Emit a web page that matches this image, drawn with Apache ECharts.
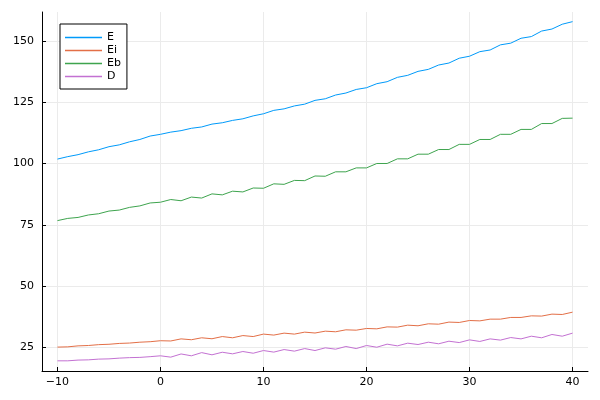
<!DOCTYPE html>
<html>
<head>
<meta charset="utf-8">
<script src="https://cdn.jsdelivr.net/npm/echarts@6/dist/echarts.min.js"></script>
<style>html,body{margin:0;padding:0;background:#fff}#c{width:600px;height:400px}</style>
</head>
<body>
<div id="c"></div>
<script>
var xs = [-10,-9,-8,-7,-6,-5,-4,-3,-2,-1,0,1,2,3,4,5,6,7,8,9,10,11,12,13,14,15,16,17,18,19,20,21,22,23,24,25,26,27,28,29,30,31,32,33,34,35,36,37,38,39,40];
var seriesNames = ['E','Ei','Eb','D'];
var E = [101.8,102.8,103.6,104.75,105.6,106.85,107.6,108.85,109.8,111.2,111.9,112.8,113.4,114.36,114.9,116.07,116.62,117.58,118.23,119.42,120.28,121.67,122.29,123.48,124.2,125.75,126.4,127.93,128.75,130.2,130.9,132.56,133.37,135.14,135.96,137.58,138.4,140.17,140.98,142.94,143.76,145.62,146.3,148.4,149.09,151.09,151.77,154.03,154.85,156.81,157.87];
var Ei = [25.1,25.2,25.6,25.75,26.1,26.25,26.6,26.75,27.1,27.3,27.7,27.6,28.45,28.1,28.9,28.5,29.4,28.9,29.8,29.4,30.4,30.0,30.8,30.4,31.2,30.85,31.6,31.35,32.15,32.0,32.7,32.55,33.35,33.25,34.05,33.8,34.6,34.45,35.3,35.15,35.95,35.8,36.5,36.5,37.2,37.2,37.85,37.75,38.55,38.4,39.35];
var Eb = [76.7,77.6,78.0,79.0,79.5,80.6,81.0,82.1,82.7,83.9,84.2,85.3,84.8,86.3,85.9,87.6,87.2,88.7,88.4,90.0,89.9,91.7,91.5,93.1,93.0,94.9,94.8,96.6,96.6,98.2,98.2,100.0,100.0,101.9,101.9,103.8,103.8,105.7,105.7,107.8,107.8,109.8,109.8,111.9,111.9,113.9,113.9,116.3,116.3,118.4,118.5];
var D = [19.5,19.5,19.8,19.9,20.2,20.3,20.6,20.8,20.9,21.2,21.55,21.0,22.3,21.55,22.85,21.95,23.0,22.35,23.3,22.6,23.7,23.05,24.1,23.45,24.5,23.7,24.8,24.25,25.35,24.5,25.75,25.05,26.3,25.6,26.7,26.15,27.1,26.45,27.5,26.95,28.05,27.4,28.45,27.95,29.0,28.45,29.55,28.9,30.25,29.55,30.8];
var xTicks = [-10,0,10,20,30,40];
var yTicks = [25,50,75,100,125,150];

var colors = ['#009AFA','#E36F47','#3EA44E','#C371D2'];
var allData = [E, Ei, Eb, D];
var font = 'DejaVu Sans';

function pairs(ys){ return xs.map(function(x,i){ return [x, ys[i]]; }); }
function fmt(v){ return String(v).replace('-', '\u2212'); }

var chart = echarts.init(document.getElementById('c'), null, {renderer:'canvas'});
chart.setOption({
  animation: false,
  backgroundColor: '#ffffff',
  grid: {left: 42, right: 12, top: 12, bottom: 29, containLabel: false},
  legend: {
    orient: 'vertical', left: 60, top: 24,
    data: seriesNames,
    icon: 'rect', itemWidth: 37, itemHeight: 1.5, itemGap: 0,
    padding: [7, 6, 6, 5],
    borderColor: '#000', borderWidth: 1, borderRadius: 0,
    backgroundColor: '#fff',
    textStyle: {fontFamily: font, fontSize: 11, color: '#000', lineHeight: 13, height: 13}
  },
  xAxis: {
    type: 'value', min: -11.5, max: 41.5,
    axisLine: {show: true, onZero: false, lineStyle: {color: '#000', width: 1}},
    axisTick: {show: true, inside: true, length: 4, customValues: xTicks, lineStyle: {color: '#000'}},
    axisLabel: {customValues: xTicks, formatter: fmt, fontFamily: font, fontSize: 11, color: '#000', margin: 6},
    splitLine: {show: true, lineStyle: {color: '#ebebeb', width: 1}}
  },
  yAxis: {
    type: 'value', min: 15.35, max: 161.8,
    axisLine: {show: true, onZero: false, lineStyle: {color: '#000', width: 1}},
    axisTick: {show: true, inside: true, length: 4, customValues: yTicks, lineStyle: {color: '#000'}},
    axisLabel: {customValues: yTicks, fontFamily: font, fontSize: 11, color: '#000', margin: 8},
    splitLine: {show: true, lineStyle: {color: '#ebebeb', width: 1}}
  },
  series: seriesNames.map(function(n, i){
    return {
      name: n, type: 'line', data: pairs(allData[i]),
      symbol: 'none', showSymbol: false,
      itemStyle: {color: colors[i]},
      lineStyle: {color: colors[i], width: 1}
    };
  })
});
</script>
</body>
</html>
